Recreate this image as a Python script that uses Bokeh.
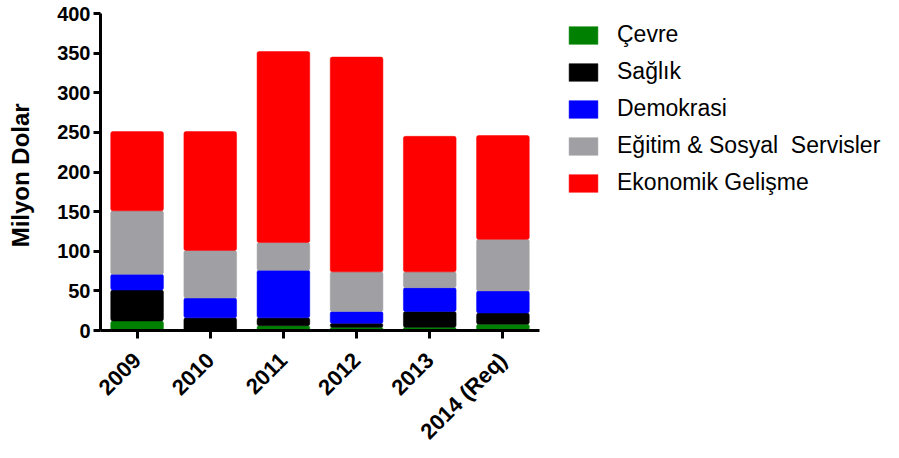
import math
from bokeh.plotting import figure
from bokeh.models import FixedTicker, Legend, FactorRange, Range1d
from bokeh.embed import file_html
from bokeh.resources import INLINE

years = ["2009", "2010", "2011", "2012", "2013", "2014 (Req)"]
cevre = [12, 0, 6, 4, 4, 8]
saglik = [39, 16, 10, 5, 20, 14]
demokrasi = [20, 25, 60, 15, 30, 28]
egitim = [80, 60, 35, 50, 20, 65]
ekonomik = [100, 150, 241, 271, 171, 131]

series_names = ["Çevre", "Sağlık", "Demokrasi", "Eğitim & Sosyal  Servisler", "Ekonomik Gelişme"]
keys = ["cevre", "saglik", "demokrasi", "egitim", "ekonomik"]
colors = ["#008000", "#000000", "#0000FF", "#A0A0A4", "#FF0000"]
y_ticks = [0, 50, 100, 150, 200, 250, 300, 350, 400]

data = dict(years=years, cevre=cevre, saglik=saglik, demokrasi=demokrasi,
            egitim=egitim, ekonomik=ekonomik)

FONT = "Liberation Sans"

p = figure(x_range=FactorRange(*years), y_range=Range1d(0, 400),
           frame_width=439, frame_height=317,
           output_backend="svg", toolbar_location=None,
           min_border_left=100, min_border_right=0, min_border_top=13,
           min_border_bottom=124)
p.outline_line_color = None
p.xgrid.grid_line_color = None
p.ygrid.grid_line_color = None

renderers = p.vbar_stack(keys, x="years", width=0.72, color=colors,
                         line_color=colors, line_width=0.5, source=data,
                         border_radius=2)

legend = Legend(items=[(n, [r]) for n, r in zip(series_names, renderers)],
                location=(26, 134), orientation="vertical",
                glyph_width=36, glyph_height=22, label_height=22,
                label_standoff=16, spacing=10, padding=0, margin=0,
                border_line_color=None, background_fill_alpha=0,
                label_text_font=FONT, label_text_font_size="23px",
                label_text_color="#000000")
p.add_layout(legend, "right")

# Y axis
p.yaxis.ticker = FixedTicker(ticks=y_ticks)
p.yaxis.minor_tick_line_color = None
p.yaxis.axis_line_width = 3
p.yaxis.major_tick_line_width = 3
p.yaxis.major_tick_out = 7
p.yaxis.major_tick_in = 0
p.yaxis.major_label_text_font = FONT
p.yaxis.major_label_text_font_style = "bold"
p.yaxis.major_label_text_font_size = "20px"
p.yaxis.major_label_text_color = "#000000"
p.yaxis.major_label_standoff = 3
p.yaxis.axis_label = "Milyon  Dolar"
p.yaxis.axis_label_text_font = FONT
p.yaxis.axis_label_text_font_style = "bold"
p.yaxis.axis_label_text_font_size = "24px"
p.yaxis.axis_label_text_color = "#000000"
p.yaxis.axis_label_standoff = 20

# X axis
p.xaxis.axis_line_width = 3
p.xaxis.major_tick_line_width = 3
p.xaxis.major_tick_out = 8
p.xaxis.major_tick_in = 0
p.xaxis.major_label_orientation = math.pi / 4
p.xaxis.major_label_text_font = FONT
p.xaxis.major_label_text_font_style = "bold"
p.xaxis.major_label_text_font_size = "22px"
p.xaxis.major_label_text_color = "#000000"
p.xaxis.major_label_standoff = 18

open("out.html", "w").write(file_html(p, INLINE))
